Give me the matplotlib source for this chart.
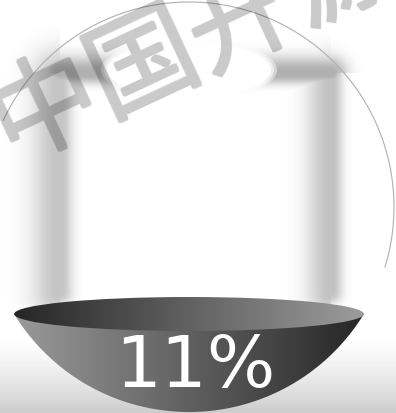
import numpy as np
import matplotlib.pyplot as plt
from matplotlib.patches import Ellipse, Polygon
from matplotlib.colors import LinearSegmentedColormap

# data
value = 11                  # percent shown in the gauge
label = f"{value}%"
watermark = "中国开源"

W, H = 396, 413
cx, cy, R = 189, 207, 205   # glass sphere
surface_y = 314             # liquid surface
surface_h = 34              # thickness of the surface ellipse


def seg_dark(xx, yy, x0, y0, x1, y1, core, sig_a, sig_b, peak):
    # darkness from a blurred line segment, sig_a on the left/top side, sig_b on the other
    dx, dy = x1 - x0, y1 - y0
    t = ((xx - x0) * dx + (yy - y0) * dy) / (dx * dx + dy * dy)
    t = np.clip(t, 0, 1)
    px, py = x0 + t * dx, y0 + t * dy
    d = np.hypot(xx - px, yy - py)
    d = np.maximum(d - core, 0)
    side = (xx < px) if dx == 0 else (yy < py)
    sig = np.where(side, sig_a, sig_b)
    return peak * np.exp(-(d / sig) ** 2)


def heavy_watermark(img, dpi):
    # thicken the glyph strokes by one pixel, then make them translucent
    a = img[..., 3]
    p = np.pad(a, 1)
    out = a.copy()
    for dy in (0, 1, 2):
        for dx in (0, 1, 2):
            out = np.maximum(out, p[dy:dy + a.shape[0], dx:dx + a.shape[1]])
    img = img.copy()
    img[..., :3] = 0
    img[..., 3] = out * 0.21
    return img, 0, 0


fig = plt.figure(figsize=(W / 100, H / 100), dpi=100)
ax = fig.add_axes([0, 0, 1, 1])
ax.set_xlim(0, W)
ax.set_ylim(H, 0)
ax.axis('off')

# soft shadow frame behind the glass
yy, xx = np.mgrid[0:H, 0:W] + 0.5
dark = np.maximum.reduce([
    seg_dark(xx, yy, 60, 76, 60, 292, 2, 26, 11, 0.23),
    seg_dark(xx, yy, 331, 76, 331, 292, 2, 22, 10, 0.24),
    seg_dark(xx, yy, 60, 73, 331, 73, 2, 15, 9, 0.31),
    0.2 * np.clip((yy - 335) / 78, 0, 1) ** 1.4,
])
ax.imshow(1 - dark, cmap='gray', vmin=0, vmax=1, extent=(0, W, H, 0),
          interpolation='bilinear', zorder=0)

# highlight on the glass
for k, a in enumerate([0.45, 0.6, 1.0]):
    ax.add_patch(Ellipse((189, 70), 176 - 6 * k, 62 - 4 * k, facecolor='white',
                         edgecolor='none', alpha=a, zorder=1))

# sphere outline, only the upper rim shows
t = np.radians(np.linspace(-17, 155, 300))
ax.plot(cx + R * np.cos(t), cy - R * np.sin(t), color='#b0b0b0', lw=0.8, zorder=2)

# liquid body: circle segment below the surface
half = np.sqrt(R ** 2 - (surface_y - cy) ** 2)
a0 = np.arctan2(surface_y - cy, half)
ang = np.linspace(a0, np.pi - a0, 200)
body = Polygon(np.column_stack([cx + R * np.cos(ang), cy + R * np.sin(ang)]),
               closed=True, facecolor='none', edgecolor='none')
ax.add_patch(body)
cm_body = LinearSegmentedColormap.from_list('b', ['#9a9a9a', '#262626'])
grad = np.linspace(0, 1, 256)[None, :]
im = ax.imshow(grad, cmap=cm_body, extent=(cx - half, cx + half, cy + R, surface_y - 1),
               aspect='auto', interpolation='bilinear', zorder=3)
im.set_clip_path(body)

# liquid surface
top = Ellipse((cx, surface_y), 2 * half, surface_h, facecolor='none', edgecolor='none')
ax.add_patch(top)
cm_top = LinearSegmentedColormap.from_list('t', ['#262626', '#9c9c9c'])
im2 = ax.imshow(grad, cmap=cm_top,
                extent=(cx - half, cx + half, surface_y + surface_h / 2, surface_y - surface_h / 2),
                aspect='auto', interpolation='bilinear', zorder=4)
im2.set_clip_path(top)

ax.text(195, 367, label, color='white', fontsize=52, ha='center', va='center',
        family='DejaVu Sans', zorder=5)

# watermark
wm = ax.text(193, 40, watermark, rotation=25, rotation_mode='anchor', fontsize=78,
             color='black', ha='center', va='center',
             family=['Noto Sans CJK SC', 'DejaVu Sans'], zorder=6)
wm.set_agg_filter(heavy_watermark)

fig.savefig('out.png', dpi=100)
